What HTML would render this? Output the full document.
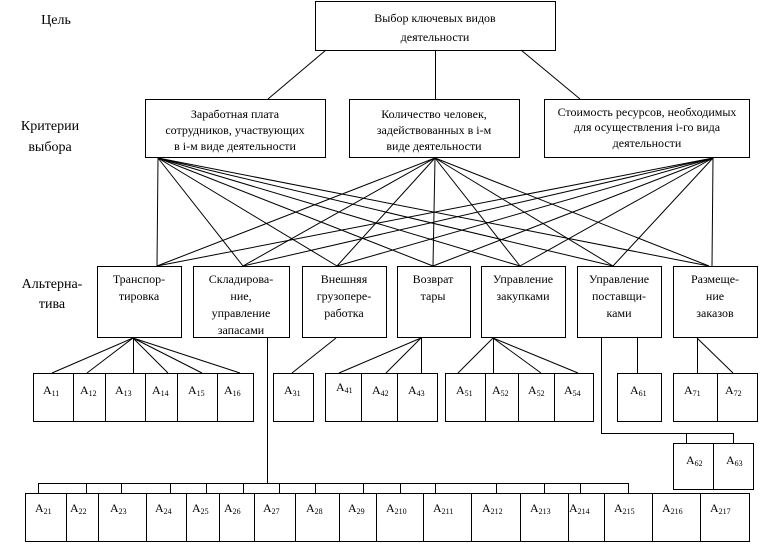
<!DOCTYPE html>
<html><head><meta charset="utf-8"><style>
html,body{margin:0;padding:0;background:#fff;}
svg{display:block;}
text{font-family:"Liberation Serif",serif;font-size:12px;fill:#000;}
.s{font-size:8px;}
.l{font-size:14px;}
</style></head><body>
<svg width="761" height="544" viewBox="0 0 761 544" xmlns="http://www.w3.org/2000/svg">
<g stroke="#000" stroke-width="1" fill="none" shape-rendering="crispEdges">
<rect x="315.5" y="1.5" width="240" height="49"/>
<rect x="145.5" y="99.5" width="180" height="58"/>
<rect x="349.5" y="99.5" width="170" height="58"/>
<rect x="544.5" y="99.5" width="205" height="58"/>
<rect x="97.5" y="266.5" width="84" height="71"/>
<rect x="193.5" y="266.5" width="96" height="71"/>
<rect x="302.5" y="266.5" width="84" height="71"/>
<rect x="397.5" y="266.5" width="73" height="71"/>
<rect x="481.5" y="266.5" width="84" height="71"/>
<rect x="577.5" y="266.5" width="84" height="71"/>
<rect x="673.5" y="266.5" width="84" height="71"/>
<rect x="33.5" y="373.5" width="220" height="48"/>
<line x1="73.5" y1="373" x2="73.5" y2="421"/><line x1="105.5" y1="373" x2="105.5" y2="421"/>
<line x1="145.5" y1="373" x2="145.5" y2="421"/><line x1="177.5" y1="373" x2="177.5" y2="421"/>
<line x1="217.5" y1="373" x2="217.5" y2="421"/>
<rect x="273.5" y="373.5" width="40" height="48"/>
<rect x="325.5" y="373.5" width="112" height="48"/>
<line x1="361.5" y1="373" x2="361.5" y2="421"/><line x1="397.5" y1="373" x2="397.5" y2="421"/>
<rect x="445.5" y="373.5" width="148" height="48"/>
<line x1="485.5" y1="373" x2="485.5" y2="421"/><line x1="518.5" y1="373" x2="518.5" y2="421"/><line x1="554.5" y1="373" x2="554.5" y2="421"/>
<rect x="617.5" y="373.5" width="44" height="48"/>
<rect x="673.5" y="373.5" width="84" height="48"/>
<line x1="717.5" y1="373" x2="717.5" y2="421"/>
<rect x="673.5" y="443.5" width="80" height="46"/>
<line x1="713.5" y1="443" x2="713.5" y2="489"/>
<polyline points="601.5,337 601.5,433.5 733.5,433.5 733.5,443"/>
<line x1="686.5" y1="433" x2="686.5" y2="443"/>
<line x1="637.5" y1="337" x2="637.5" y2="373"/>
<rect x="25.5" y="493.5" width="724" height="48"/>
<line x1="66.5" y1="493" x2="66.5" y2="541"/><line x1="98.5" y1="493" x2="98.5" y2="541"/>
<line x1="146.5" y1="493" x2="146.5" y2="541"/><line x1="186.5" y1="493" x2="186.5" y2="541"/>
<line x1="219.5" y1="493" x2="219.5" y2="541"/><line x1="254.5" y1="493" x2="254.5" y2="541"/>
<line x1="295.5" y1="493" x2="295.5" y2="541"/><line x1="339.5" y1="493" x2="339.5" y2="541"/>
<line x1="376.5" y1="493" x2="376.5" y2="541"/><line x1="423.5" y1="493" x2="423.5" y2="541"/>
<line x1="471.5" y1="493" x2="471.5" y2="541"/><line x1="520.5" y1="493" x2="520.5" y2="541"/>
<line x1="568.5" y1="493" x2="568.5" y2="541"/><line x1="604.5" y1="493" x2="604.5" y2="541"/>
<line x1="652.5" y1="493" x2="652.5" y2="541"/><line x1="700.5" y1="493" x2="700.5" y2="541"/>
<line x1="267.5" y1="337" x2="267.5" y2="483"/>
<line x1="38" y1="483.5" x2="629" y2="483.5"/>
<line x1="38.5" y1="483" x2="38.5" y2="493"/><line x1="86.5" y1="483" x2="86.5" y2="493"/>
<line x1="121.5" y1="483" x2="121.5" y2="493"/><line x1="170.5" y1="483" x2="170.5" y2="493"/>
<line x1="206.5" y1="483" x2="206.5" y2="493"/><line x1="243.5" y1="483" x2="243.5" y2="493"/>
<line x1="279.5" y1="483" x2="279.5" y2="493"/><line x1="315.5" y1="483" x2="315.5" y2="493"/>
<line x1="363.5" y1="483" x2="363.5" y2="493"/><line x1="400.5" y1="483" x2="400.5" y2="493"/>
<line x1="435.5" y1="483" x2="435.5" y2="493"/><line x1="496.5" y1="483" x2="496.5" y2="493"/>
<line x1="544.5" y1="483" x2="544.5" y2="493"/><line x1="580.5" y1="483" x2="580.5" y2="493"/>
<line x1="628.5" y1="483" x2="628.5" y2="493"/>
</g>
<g stroke="#000" stroke-width="1" fill="none">
<line x1="326" y1="50" x2="268" y2="99"/>
<line x1="435.5" y1="50" x2="435.5" y2="99"/>
<line x1="521" y1="50" x2="580" y2="99"/>
<line x1="158" y1="158" x2="157" y2="266"/><line x1="158" y1="158" x2="243" y2="266"/><line x1="158" y1="158" x2="337" y2="266"/><line x1="158" y1="158" x2="433" y2="266"/><line x1="158" y1="158" x2="520" y2="266"/><line x1="158" y1="158" x2="613" y2="266"/><line x1="158" y1="158" x2="709" y2="266"/>
<line x1="435" y1="158" x2="157" y2="266"/><line x1="435" y1="158" x2="243" y2="266"/><line x1="435" y1="158" x2="337" y2="266"/><line x1="435" y1="158" x2="433" y2="266"/><line x1="435" y1="158" x2="520" y2="266"/><line x1="435" y1="158" x2="613" y2="266"/><line x1="435" y1="158" x2="709" y2="266"/>
<line x1="713" y1="158" x2="157" y2="266"/><line x1="713" y1="158" x2="243" y2="266"/><line x1="713" y1="158" x2="337" y2="266"/><line x1="713" y1="158" x2="433" y2="266"/><line x1="713" y1="158" x2="520" y2="266"/><line x1="713" y1="158" x2="613" y2="266"/><line x1="713" y1="158" x2="712" y2="266"/>
<line x1="133" y1="338" x2="52" y2="373"/><line x1="133" y1="338" x2="87" y2="373"/><line x1="133.5" y1="338" x2="133.5" y2="373"/><line x1="133" y1="338" x2="168" y2="373"/><line x1="133" y1="338" x2="202" y2="373"/><line x1="133" y1="338" x2="240" y2="373"/>
<line x1="336" y1="338" x2="292" y2="373"/>
<line x1="421" y1="338" x2="339" y2="373"/><line x1="421" y1="338" x2="386" y2="373"/><line x1="421.5" y1="338" x2="421.5" y2="373"/>
<line x1="493" y1="338" x2="458" y2="373"/><line x1="493.5" y1="338" x2="493.5" y2="373"/><line x1="493" y1="338" x2="541" y2="373"/><line x1="493" y1="338" x2="578" y2="373"/>
<line x1="697.5" y1="338" x2="697.5" y2="373"/><line x1="697" y1="338" x2="733" y2="373"/>
</g>
<g text-anchor="middle">
<text class="l" x="56" y="24">Цель</text>
<text class="l" x="50" y="130">Критерии</text><text class="l" x="50" y="151">выбора</text>
<text class="l" x="52" y="288">Альтерна-</text><text class="l" x="52" y="308">тива</text>
<text x="435" y="22" font-size="13">Выбор ключевых видов</text>
<text x="435" y="41" font-size="13">деятельности</text>
<text x="235" y="118">Заработная плата</text><text x="235" y="134">сотрудников, участвующих</text><text x="235" y="150">в i-м виде деятельности</text>
<text x="434" y="118">Количество человек,</text><text x="434" y="134">задействованных в i-м</text><text x="434" y="150">виде деятельности</text>
<text x="647" y="116" font-size="11">Стоимость ресурсов, необходимых</text><text x="647" y="131" font-size="11">для осуществления i-го вида</text><text x="647" y="147" font-size="11">деятельности</text>
<g font-size="11">
<text x="139" y="283">Транспор-</text><text x="139" y="300">тировка</text>
<text x="241" y="283">Складирова-</text><text x="241" y="300">ние,</text><text x="241" y="317">управление</text><text x="241" y="334">запасами</text>
<text x="344" y="283">Внешняя</text><text x="344" y="300">грузопере-</text><text x="344" y="317">работка</text>
<text x="433" y="283">Возврат</text><text x="433" y="300">тары</text>
<text x="523" y="283">Управление</text><text x="523" y="300">закупками</text>
<text x="619" y="283">Управление</text><text x="619" y="300">поставщи-</text><text x="619" y="317">ками</text>
<text x="715" y="283">Размеще-</text><text x="715" y="300">ние</text><text x="715" y="317">заказов</text>
</g>
</g>
<g font-size="12">
<text x="43" y="394">A<tspan class="s" dy="2">11</tspan></text>
<text x="80" y="394">A<tspan class="s" dy="2">12</tspan></text>
<text x="115" y="394">A<tspan class="s" dy="2">13</tspan></text>
<text x="152" y="394">A<tspan class="s" dy="2">14</tspan></text>
<text x="188" y="394">A<tspan class="s" dy="2">15</tspan></text>
<text x="224" y="394">A<tspan class="s" dy="2">16</tspan></text>
<text x="284" y="394">A<tspan class="s" dy="2">31</tspan></text>
<text x="336" y="391">A<tspan class="s" dy="2">41</tspan></text>
<text x="372" y="394">A<tspan class="s" dy="2">42</tspan></text>
<text x="408" y="394">A<tspan class="s" dy="2">43</tspan></text>
<text x="456" y="394">A<tspan class="s" dy="2">51</tspan></text>
<text x="492" y="394">A<tspan class="s" dy="2">52</tspan></text>
<text x="528" y="394">A<tspan class="s" dy="2">52</tspan></text>
<text x="564" y="394">A<tspan class="s" dy="2">54</tspan></text>
<text x="630" y="394">A<tspan class="s" dy="2">61</tspan></text>
<text x="684" y="394">A<tspan class="s" dy="2">71</tspan></text>
<text x="725" y="394">A<tspan class="s" dy="2">72</tspan></text>
<text x="686" y="464">A<tspan class="s" dy="2">62</tspan></text>
<text x="726" y="464">A<tspan class="s" dy="2">63</tspan></text>
<text x="35" y="512">A<tspan class="s" dy="2">21</tspan></text>
<text x="70" y="512">A<tspan class="s" dy="2">22</tspan></text>
<text x="110" y="512">A<tspan class="s" dy="2">23</tspan></text>
<text x="155" y="512">A<tspan class="s" dy="2">24</tspan></text>
<text x="192" y="512">A<tspan class="s" dy="2">25</tspan></text>
<text x="224" y="512">A<tspan class="s" dy="2">26</tspan></text>
<text x="263" y="512">A<tspan class="s" dy="2">27</tspan></text>
<text x="306" y="512">A<tspan class="s" dy="2">28</tspan></text>
<text x="348" y="512">A<tspan class="s" dy="2">29</tspan></text>
<text x="386" y="512">A<tspan class="s" dy="2">210</tspan></text>
<text x="433" y="512">A<tspan class="s" dy="2">211</tspan></text>
<text x="482" y="512">A<tspan class="s" dy="2">212</tspan></text>
<text x="530" y="512">A<tspan class="s" dy="2">213</tspan></text>
<text x="569" y="512">A<tspan class="s" dy="2">214</tspan></text>
<text x="614" y="512">A<tspan class="s" dy="2">215</tspan></text>
<text x="662" y="512">A<tspan class="s" dy="2">216</tspan></text>
<text x="710" y="512">A<tspan class="s" dy="2">217</tspan></text>
</g>
</svg>
</body></html>
